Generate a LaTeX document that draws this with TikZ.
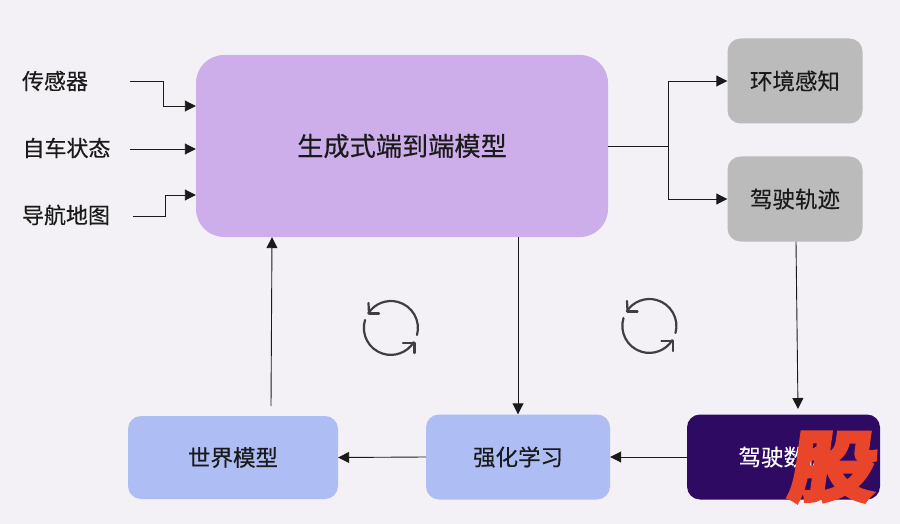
\documentclass[tikz,border=0pt]{standalone}
\usepackage{fontspec}
\setmainfont[FakeBold=0.35]{Noto Sans CJK SC}
\newfontfamily\markfont[FakeBold=6]{Noto Sans CJK SC Bold}
\usetikzlibrary{arrows.meta}
\definecolor{bgc}{HTML}{F3F1F6}
\definecolor{purp}{HTML}{CDADEA}
\definecolor{greyb}{HTML}{BBBBBB}
\definecolor{blueb}{HTML}{AEBDF3}
\definecolor{darkb}{HTML}{2E0A63}
\definecolor{inkc}{HTML}{1A1A1A}
\definecolor{iconc}{HTML}{3E3E44}
\definecolor{markc}{HTML}{E8452A}
\tikzset{
  x=1pt,y=-1pt,
  box/.style={draw=none,inner sep=0pt,text=inkc,font=\fontsize{22.5}{26}\selectfont,anchor=center},
  lab/.style={inner sep=0pt,text=inkc,font=\fontsize{22}{26}\selectfont,anchor=center},
  conn/.style={draw=inkc,line width=0.9pt,-{Triangle[length=11pt,width=11pt]}},
  cyc/.style={draw=iconc,line width=2.2pt,line cap=round,line join=miter},
}
\begin{document}
\begin{tikzpicture}
\useasboundingbox (0,0) rectangle (900,524);
\fill[bgc] (0,0) rectangle (900,524);
% boxes
\node[box,fill=purp,rounded corners=28pt,minimum width=412pt,minimum height=182pt,font=\fontsize{26.2}{30}\selectfont] (gen) at (402,146) {生成式端到端模型};
\node[box,fill=greyb,rounded corners=13pt,minimum width=135pt,minimum height=85pt] (env) at (795,81) {环境感知};
\node[box,fill=greyb,rounded corners=13pt,minimum width=135pt,minimum height=85pt] (traj) at (795,199) {驾驶轨迹};
\node[box,fill=blueb,rounded corners=13pt,minimum width=210pt,minimum height=83pt] (world) at (233,457.5) {世界模型};
\node[box,fill=blueb,rounded corners=13pt,minimum width=184pt,minimum height=85pt] (rl) at (518,457) {强化学习};
\node[box,fill=darkb,text=white,rounded corners=13pt,minimum width=193pt,minimum height=85pt] (data) at (783.5,457) {驾驶数据};
% input labels
\node[lab] (sensor) at (55,81) {传感器};
\node[lab] (state) at (66.5,148) {自车状态};
\node[lab] (map) at (66,215) {导航地图};
\coordinate (s0) at (130,81);
\coordinate (s1) at (130,149);
\coordinate (s2) at (133,216);
\coordinate (dtop) at (798,409);
% connectors
\draw[conn] (s0) -- (163,81) -- (163,106) -- (gen.west |- 0,106);
\draw[conn] (s1) -- (gen.west |- s1);
\draw[conn] (s2) -- (165,216) -- (165,195) -- (gen.west |- 0,195);
\draw[draw=inkc,line width=0.9pt] (gen.east |- 0,146) -- (668,146);
\draw[conn] (668,146) -- (668,81) -- (env.west);
\draw[conn] (668,146) -- (668,199) -- (traj.west);
\draw[conn] (traj.south -| 796,0) -- (dtop);
\draw[conn] (gen.south -| 518,0) -- (rl.north);
\draw[conn] (data.west) -- (rl.east);
\draw[conn] (rl.west) -- (world.east);
\draw[conn] (271,406) -- (gen.south -| 272,0);
% cycle icons
\foreach \cx/\cy in {391/328, 649.5/326}{
  \begin{scope}[shift={(\cx,\cy)}]
    \draw[cyc] (26,7) arc[start angle=-15,end angle=147,radius=27pt];
    \draw[cyc] (-22,-14.5) -- (-22.5,-25);
    \draw[cyc] (-22,-14.5) -- (-12,-14.5);
    \draw[cyc] (-26,-8) arc[start angle=163,end angle=328,radius=27pt];
    \draw[cyc] (23.5,15) -- (12,15);
    \draw[cyc] (23.5,15) -- (23.5,25);
  \end{scope}
}
% watermark
\node[inner sep=0pt,text=markc,font=\markfont\fontsize{86}{86}\selectfont,xslant=0.14,yscale=0.88] (wm) at (834,467) {股};
\end{tikzpicture}
\end{document}
